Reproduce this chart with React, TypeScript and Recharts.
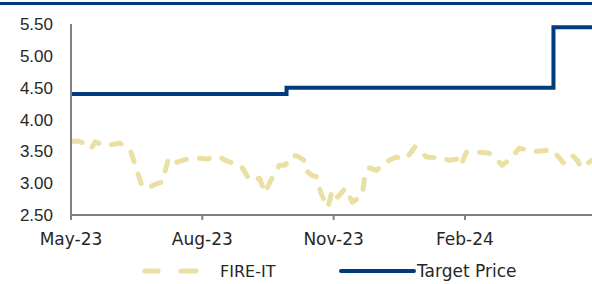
import { LineChart, Line, XAxis, YAxis, Legend } from 'recharts';

// FIRE-IT closing prices
const fireDates = [
  '2023-05-02', '2023-05-06', '2023-05-10', '2023-05-13', '2023-05-15', '2023-05-18', '2023-05-23', '2023-05-28',
  '2023-06-04', '2023-06-08', '2023-06-12', '2023-06-14', '2023-06-16', '2023-06-20', '2023-06-25', '2023-06-29',
  '2023-07-04', '2023-07-06', '2023-07-08', '2023-07-11', '2023-07-14', '2023-07-20', '2023-07-25', '2023-07-30',
  '2023-08-04', '2023-08-09', '2023-08-13', '2023-08-17', '2023-08-22', '2023-08-26', '2023-08-29',
  '2023-09-03', '2023-09-07', '2023-09-10', '2023-09-14', '2023-09-17', '2023-09-21', '2023-09-24', '2023-09-28',
  '2023-10-01', '2023-10-03', '2023-10-07', '2023-10-12', '2023-10-14', '2023-10-17', '2023-10-20', '2023-10-23',
  '2023-10-26', '2023-10-28', '2023-10-31', '2023-11-04', '2023-11-09', '2023-11-12', '2023-11-14', '2023-11-18',
  '2023-11-21', '2023-11-23', '2023-11-26', '2023-12-01', '2023-12-06', '2023-12-10', '2023-12-15', '2023-12-21',
  '2023-12-24', '2023-12-28', '2024-01-01', '2024-01-05', '2024-01-11', '2024-01-16', '2024-01-21', '2024-01-27',
  '2024-01-29', '2024-02-02', '2024-02-08', '2024-02-13', '2024-02-18', '2024-02-23', '2024-02-27', '2024-03-02',
  '2024-03-06', '2024-03-10', '2024-03-16', '2024-03-22', '2024-03-27', '2024-04-02', '2024-04-07', '2024-04-10',
  '2024-04-13', '2024-04-16', '2024-04-20', '2024-04-22', '2024-04-26', '2024-04-30',
];
const fireValues = [
  3.66, 3.66, 3.63, 3.58, 3.54, 3.65, 3.6, 3.6,
  3.63, 3.58, 3.49, 3.35, 3.21, 2.94, 2.94, 2.98,
  3.02, 3.2, 3.35, 3.41, 3.33, 3.37, 3.39, 3.39,
  3.38, 3.4, 3.41, 3.36, 3.32, 3.3, 3.24,
  3.05, 3.05, 3.08, 2.85, 3.0, 3.17, 3.28, 3.28,
  3.38, 3.44, 3.42, 3.35, 3.17, 3.12, 3.1, 2.85,
  2.7, 2.62, 2.89, 2.78, 2.92, 2.8, 2.7, 2.76,
  2.81, 3.13, 3.24, 3.2, 3.3, 3.36, 3.41, 3.38,
  3.45, 3.57, 3.5, 3.41, 3.4, 3.39, 3.36, 3.38,
  3.28, 3.49, 3.49, 3.48, 3.47, 3.38, 3.28, 3.35,
  3.44, 3.55, 3.52, 3.5, 3.51, 3.52, 3.4, 3.32,
  3.4, 3.44, 3.35, 3.25, 3.3, 3.36,
];

// Target price changes
const targetDates = ['2023-05-01', '2023-09-29', '2024-04-03', '2024-04-30'];
const targetValues = [4.4, 4.5, 5.45, 5.45];

const xTickDates = ['2023-05-01', '2023-08-01', '2023-11-01', '2024-02-01'];
const yTicks = [2.5, 3.0, 3.5, 4.0, 4.5, 5.0, 5.5];
const months = ['Jan', 'Feb', 'Mar', 'Apr', 'May', 'Jun', 'Jul', 'Aug', 'Sep', 'Oct', 'Nov', 'Dec'];

const ts = (d: string) => Date.parse(d + 'T00:00:00Z');

const fireData = fireDates.map((d, i) => ({ t: ts(d), v: fireValues[i] }));
const targetData = targetDates.map((d, i) => ({ t: ts(d), v: targetValues[i] }));

const GOLD = '#EAE0A4';
const NAVY = '#003B7C';

const fmtDate = (t: number) => {
  const d = new Date(t);
  return `${months[d.getUTCMonth()]}-${String(d.getUTCFullYear()).slice(2)}`;
};

const renderLegend = () => (
  <div style={{ height: 26 }}>
    <svg width={592} height={26} style={{ display: 'block' }}>
      <line x1={145} y1={13} x2={158} y2={13} stroke={GOLD} strokeWidth={5} strokeLinecap="round" />
      <line x1={181} y1={13} x2={196} y2={13} stroke={GOLD} strokeWidth={5} strokeLinecap="round" />
      <text x={220} y={19} fontSize={16} fontFamily="DejaVu Sans" fill="#262626">FIRE-IT</text>
      <line x1={341} y1={13} x2={414} y2={13} stroke={NAVY} strokeWidth={4} strokeLinecap="round" />
      <text x={417} y={19} fontSize={17} fontFamily="DejaVu Sans" fill="#262626">Target Price</text>
    </svg>
  </div>
);

export default function App() {
  return (
    <div style={{ position: 'absolute', left: 0, top: 0, width: 592, height: 284, background: '#fff' }}>
      <div style={{ position: 'absolute', left: 0, top: 2, width: 592, height: 3, background: NAVY }} />
      <LineChart width={592} height={284} margin={{ top: 24, right: 0, bottom: 0, left: 0 }}>
        <XAxis
          type="number"
          dataKey="t"
          domain={[ts('2023-05-01'), ts('2024-04-30')]}
          ticks={xTickDates.map(ts)}
          tickFormatter={fmtDate}
          allowDataOverflow
          height={43}
          stroke="#808080"
          strokeWidth={2}
          tickSize={5}
          tickMargin={13}
          tick={{ fill: '#262626', fontSize: 17, fontFamily: 'DejaVu Sans' }}
        />
        <YAxis
          type="number"
          domain={[2.5, 5.5]}
          ticks={yTicks}
          tickFormatter={(v: number) => v.toFixed(2)}
          width={71}
          stroke="#808080"
          strokeWidth={2}
          tickLine={false}
          tickMargin={12}
          tick={{ fill: '#262626', fontSize: 17, fontFamily: 'Liberation Sans' }}
        />
        <Legend verticalAlign="bottom" content={renderLegend} wrapperStyle={{ bottom: 0, left: 0 }} />
        <Line
          data={fireData}
          dataKey="v"
          name="FIRE-IT"
          type="linear"
          stroke={GOLD}
          strokeWidth={5}
          strokeDasharray="10 13"
          strokeLinecap="round"
          strokeLinejoin="round"
          dot={false}
          activeDot={false}
          isAnimationActive={false}
        />
        <Line
          data={targetData}
          dataKey="v"
          name="Target Price"
          type="stepAfter"
          stroke={NAVY}
          strokeWidth={4}
          dot={false}
          activeDot={false}
          isAnimationActive={false}
        />
      </LineChart>
    </div>
  );
}
